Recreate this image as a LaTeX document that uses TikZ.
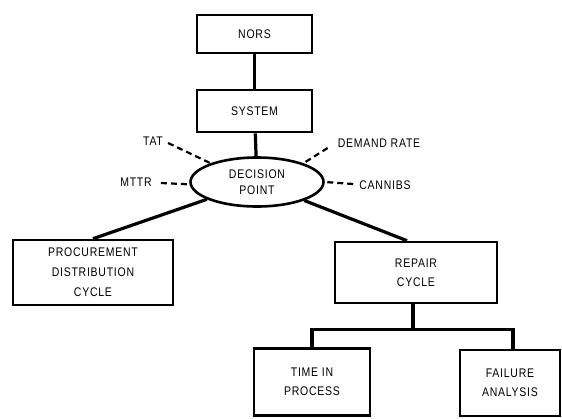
\documentclass[tikz,border=0pt]{standalone}
\usepackage{fontspec}
\setmainfont{Liberation Sans}[LetterSpace=6,FakeStretch=0.84]
\usetikzlibrary{shapes.geometric,calc}
\begin{document}
\begin{tikzpicture}[x=1pt,y=-1pt,
  font=\fontsize{12.5}{19}\selectfont,
  box/.style={draw,line width=2.6pt,rectangle,align=center,inner sep=0pt},
  link/.style={line width=3.2pt},
  dashlink/.style={line width=2.2pt,dash pattern=on 6pt off 4pt},
  lbl/.style={inner sep=1pt}]
\useasboundingbox (0,0) rectangle (562,418);
% boxes of the tree
\node[box,minimum width=115pt,minimum height=38pt] (nors) at (254.5,34) {NORS};
\node[box,minimum width=115pt,minimum height=42pt] (sys) at (254.5,111) {SYSTEM};
\node[draw,line width=2.6pt,ellipse,minimum width=133pt,minimum height=49pt,inner sep=0pt,align=center,
  font=\fontsize{12.5}{16}\selectfont] (dp) at (257,182) {DECISION\\[0pt]POINT};
\node[box,minimum width=160pt,minimum height=65pt,font=\fontsize{12.5}{20}\selectfont] (proc) at (93,272.5) {PROCUREMENT\\DISTRIBUTION\\CYCLE};
\node[box,minimum width=162pt,minimum height=61pt] (rep) at (416,272.5) {REPAIR\\CYCLE};
\node[box,minimum width=116pt,minimum height=67pt] (tip) at (312,382) {TIME IN\\PROCESS};
\node[box,minimum width=100pt,minimum height=66pt] (fa) at (510,383) {FAILURE\\ANALYSIS};
% factor labels round the decision point
\node[lbl] (tat) at (153,141) {TAT};
\node[lbl] (mttr) at (136,182) {MTTR};
\node[lbl] (dem) at (379,143) {DEMAND RATE};
\node[lbl] (can) at (385,185) {CANNIBS};
% solid connectors
\draw[link] (nors) -- (sys);
\draw[link] (sys) -- (dp);
\draw[link] (dp) -- (proc.north);
\draw[link] (dp) -- ($(rep.north)+(-9,0)$);
\coordinate (bar) at ($(rep.south)+(-3,25)$);
\draw[link] (rep.south -| bar) -- (bar) -| (tip.north);
\draw[link] (bar) -| ($(fa.north)+(3,0)$);
% dashed factor connectors
\draw[dashlink] ($(tat.east)+(4,2)$) -- (dp.158);
\draw[dashlink] ($(mttr.east)+(8,1)$) -- (dp.182);
\draw[dashlink] ($(dem.west)+(-9,5)$) -- (dp.22);
\draw[dashlink] ($(can.west)+(-5,-1)$) -- (dp.east);
\end{tikzpicture}
\end{document}
